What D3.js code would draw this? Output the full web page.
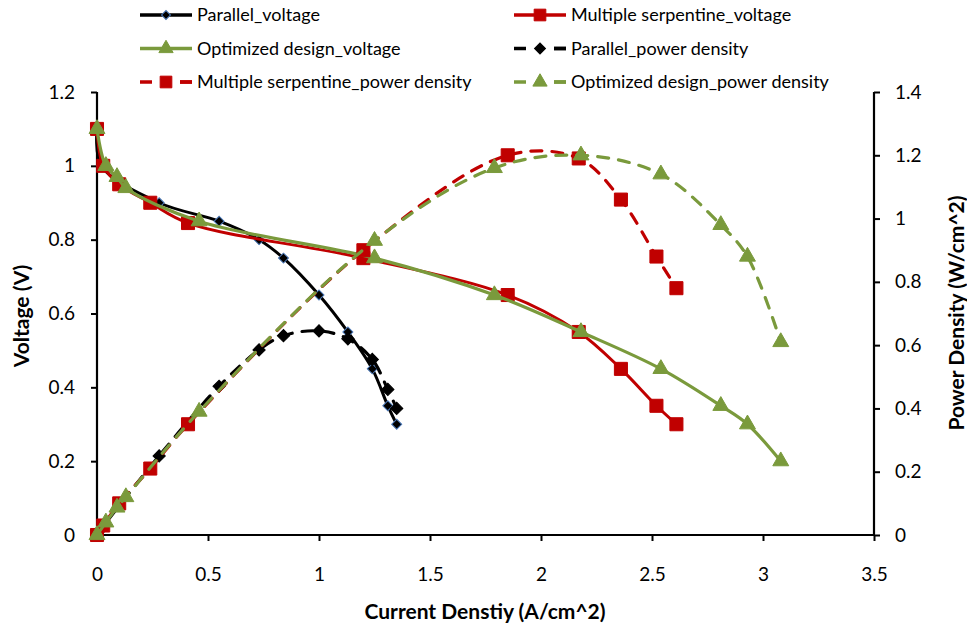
<!DOCTYPE html>
<html>
<head>
<meta charset="utf-8">
<script src="https://cdn.jsdelivr.net/npm/d3@7"></script>
<style>
  body { margin: 0; background: #fff; }
  text { font-family: Lato, "Open Sans", sans-serif; fill: #000; }
  .tick text { font-size: 19px; }
  .axisTitle { font-size: 21px; font-weight: bold; }
  .legText { font-size: 18px; }
</style>
</head>
<body>
<div id="chart"></div>
<script>
// Data
var parallelI = [0, 0.02, 0.28, 0.55, 0.73, 0.84, 1.0, 1.13, 1.24, 1.31, 1.35];
var parallelV = [1.1, 1.0, 0.9, 0.85, 0.8, 0.75, 0.65, 0.55, 0.45, 0.35, 0.3];
var parallelP = [0, 0.02, 0.25, 0.47, 0.585, 0.63, 0.645, 0.62, 0.555, 0.46, 0.40];

var serpI = [0, 0.028, 0.1, 0.24, 0.41, 1.2, 1.85, 2.17, 2.36, 2.52, 2.61];
var serpV = [1.1, 1.0, 0.95, 0.9, 0.845, 0.75, 0.65, 0.55, 0.45, 0.35, 0.3];
var serpP = [0, 0.03, 0.1, 0.21, 0.35, 0.9, 1.2, 1.19, 1.06, 0.88, 0.78];

var optI = [0, 0.04, 0.09, 0.13, 0.46, 1.25, 1.79, 2.18, 2.54, 2.81, 2.93, 3.08];
var optV = [1.1, 1.0, 0.97, 0.94, 0.85, 0.75, 0.65, 0.55, 0.45, 0.35, 0.3, 0.2];
var optP = [0, 0.04, 0.087, 0.12, 0.39, 0.93, 1.16, 1.2, 1.14, 0.98, 0.88, 0.61];

var xTicks = [0, 0.5, 1, 1.5, 2, 2.5, 3, 3.5];
var yLeftTicks = [0, 0.2, 0.4, 0.6, 0.8, 1, 1.2];
var yRightTicks = [0, 0.2, 0.4, 0.6, 0.8, 1, 1.2, 1.4];

// Parameters
var width = 967;
var height = 630;
var plotL = 97, plotR = 874, plotT = 92, plotB = 535;
var red = "#c00000";
var green = "#7a9a3c";

var svg = d3.select("#chart").append("svg")
    .attr("width", width)
    .attr("height", height);

var xScale = d3.scaleLinear().domain([0, 3.5]).range([plotL, plotR]);
var yLeft = d3.scaleLinear().domain([0, 1.2]).range([plotB, plotT]);
var yRight = d3.scaleLinear().domain([0, 1.4]).range([plotB, plotT]);

function fmt(d){ return d3.format("")(d); }

// Axes
var xAxis = d3.axisBottom(xScale).tickValues(xTicks).tickSize(6).tickPadding(27).tickFormat(fmt);
var yAxisL = d3.axisLeft(yLeft).tickValues(yLeftTicks).tickSize(6).tickPadding(16).tickFormat(fmt);
var yAxisR = d3.axisRight(yRight).tickValues(yRightTicks).tickSize(6).tickPadding(15).tickFormat(fmt);

function styleAxis(g){
    g.select(".domain").attr("stroke", "#000").attr("stroke-width", 2.2);
    g.selectAll(".tick line").attr("stroke", "#000").attr("stroke-width", 2);
}

svg.append("g").attr("transform", "translate(0," + plotB + ")").call(xAxis).call(styleAxis)
    .select(".domain").attr("d", "M" + plotL + ",0H" + plotR);
svg.append("g").attr("transform", "translate(" + plotL + ",0)").call(yAxisL).call(styleAxis)
    .select(".domain").attr("d", "M0," + plotT + "V" + plotB);
svg.append("g").attr("transform", "translate(" + plotR + ",0)").call(yAxisR).call(styleAxis)
    .select(".domain").attr("d", "M0," + plotT + "V" + plotB);
svg.selectAll(".tick text").attr("font-family", null).attr("font-size", null);

// Axis titles
svg.append("text").attr("class", "axisTitle")
    .attr("transform", "translate(29,316)rotate(-90)")
    .attr("text-anchor", "middle").text("Voltage (V)");
svg.append("text").attr("class", "axisTitle")
    .attr("transform", "translate(964,313)rotate(-90)")
    .attr("text-anchor", "middle").text("Power Density (W/cm^2)");
svg.append("text").attr("class", "axisTitle")
    .attr("x", 485).attr("y", 619)
    .attr("text-anchor", "middle").text("Current Denstiy (A/cm^2)");

// Series (diamonds are squares turned 45 degrees)
var series = [
    {name: "Parallel_voltage", I: parallelI, Y: parallelV, axis: yLeft, color: "#000", dash: null, sym: d3.symbolSquare, rot: 45, size: 50, edge: "#4a78b8", width: 3},
    {name: "Multiple serpentine_voltage", I: serpI, Y: serpV, axis: yLeft, color: red, dash: null, sym: d3.symbolSquare, rot: 0, size: 170, edge: red, width: 3},
    {name: "Optimized design_voltage", I: optI, Y: optV, axis: yLeft, color: green, dash: null, sym: d3.symbolTriangle, rot: 0, size: 110, edge: green, width: 3.2},
    {name: "Parallel_power density", I: parallelI, Y: parallelP, axis: yRight, color: "#000", dash: "11,10", sym: d3.symbolSquare, rot: 45, size: 75, edge: "#000", width: 3.2},
    {name: "Multiple serpentine_power density", I: serpI, Y: serpP, axis: yRight, color: red, dash: "11,10", sym: d3.symbolSquare, rot: 0, size: 170, edge: red, width: 3.2},
    {name: "Optimized design_power density", I: optI, Y: optP, axis: yRight, color: green, dash: "11,10", sym: d3.symbolTriangle, rot: 0, size: 110, edge: green, width: 3.2}
];

series.forEach(function(s){
    var pts = s.I.map(function(d, i){ return [d, s.Y[i]]; });
    var line = d3.line()
        .x(function(d){ return xScale(d[0]); })
        .y(function(d){ return s.axis(d[1]); })
        .curve(d3.curveCatmullRom.alpha(0.5));
    svg.append("path").datum(pts)
        .attr("d", line)
        .attr("fill", "none")
        .attr("stroke", s.color)
        .attr("stroke-width", s.width)
        .attr("stroke-linecap", "round")
        .attr("stroke-dasharray", s.dash);
    svg.append("g").selectAll("path").data(pts).enter().append("path")
        .attr("transform", function(d){ return "translate(" + xScale(d[0]) + "," + s.axis(d[1]) + ")rotate(" + s.rot + ")"; })
        .attr("d", d3.symbol().type(s.sym).size(s.size))
        .attr("fill", s.color)
        .attr("stroke", s.edge)
        .attr("stroke-width", 1);
});

// Legend
var legX = [140, 514];
var legY = [15, 48.5, 82];
series.forEach(function(s, i){
    var col = i % 2, row = Math.floor(i / 2);
    var g = svg.append("g").attr("transform", "translate(" + legX[col] + "," + legY[row] + ")");
    g.append("line").attr("x1", 0).attr("x2", 52).attr("y1", 0).attr("y2", 0)
        .attr("stroke", s.color).attr("stroke-width", 3.5)
        .attr("stroke-dasharray", s.dash ? "12,28" : null);
    if (s.dash) {
        g.append("line").attr("x1", 40).attr("x2", 52).attr("y1", 0).attr("y2", 0)
            .attr("stroke", s.color).attr("stroke-width", 3.5);
    }
    g.append("path").attr("transform", "translate(26,0)rotate(" + s.rot + ")")
        .attr("d", d3.symbol().type(s.sym).size(s.size * 0.8))
        .attr("fill", s.color).attr("stroke", s.edge).attr("stroke-width", 1);
    g.append("text").attr("class", "legText").attr("x", 57).attr("y", 0)
        .attr("dy", "0.35em").text(s.name);
});
</script>
</body>
</html>
